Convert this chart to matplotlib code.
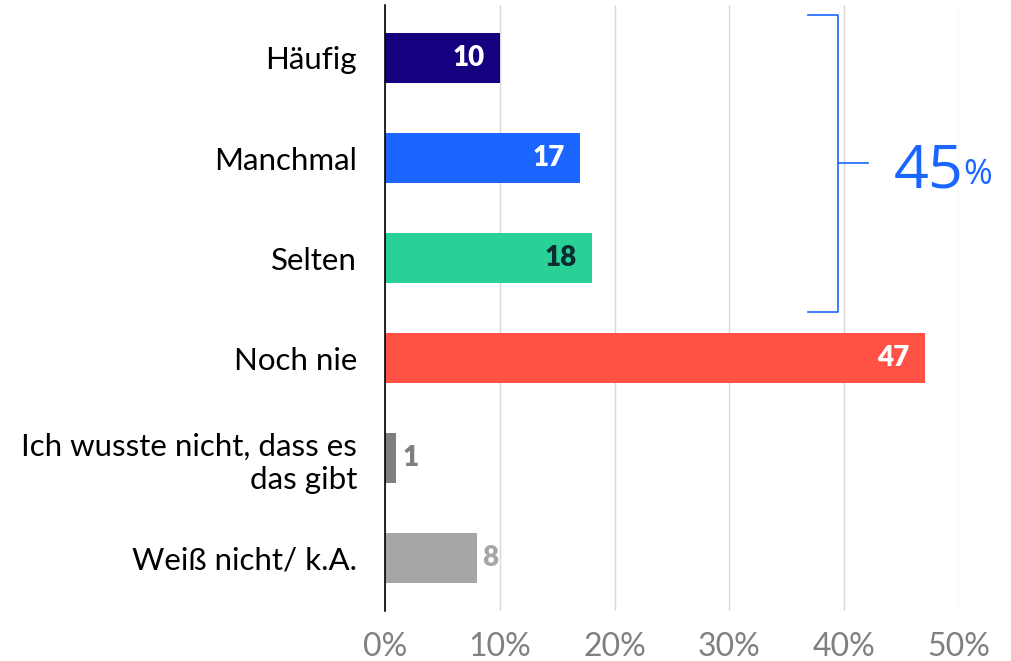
import matplotlib.pyplot as plt

categories = ["Häufig", "Manchmal", "Selten", "Noch nie",
              "Ich wusste nicht, dass es\ndas gibt", "Weiß nicht/ k.A."]
values = [10, 17, 18, 47, 1, 8]
colors = ["#150080", "#1a66ff", "#2ad197", "#ff5245", "#7f7f7f", "#a6a6a6"]
label_colors = ["white", "white", "#0c2b33", "white", "#7f7f7f", "#a6a6a6"]
inside = [True, True, True, True, False, False]
xticks = [0, 10, 20, 30, 40, 50]
sum_label = "45"

plt.rcParams['font.family'] = ['Lato', 'DejaVu Sans']

fig = plt.figure(figsize=(10.12, 6.61), dpi=100)
ax = fig.add_axes([385 / 1012, 1 - 611 / 661, 574 / 1012, 606 / 661])

ypos = list(range(len(categories)))
ax.barh(ypos, values, height=0.5, color=colors, zorder=3)

for y, v, lc, ins in zip(ypos, values, label_colors, inside):
    if ins:
        ax.text(v - 1.3, y, str(v), ha='right', va='center', color=lc,
                fontsize=20, fontweight='heavy', zorder=4)
    else:
        ax.text(v + 0.5, y, str(v), ha='left', va='center', color=lc,
                fontsize=20, fontweight='heavy', zorder=4)

ax.set_xlim(0, 50)
ax.set_ylim(5.53, -0.53)
ax.set_yticks(ypos)
ax.set_yticklabels(categories, fontsize=22.5, color='black', ha='right')
ax.set_xticks(xticks)
ax.set_xticklabels([f"{t}%" for t in xticks], fontsize=23, color='#808080')
ax.tick_params(axis='both', length=0)
ax.tick_params(axis='y', pad=20)
ax.tick_params(axis='x', pad=15)
for lbl in ax.get_yticklabels():
    lbl.set_multialignment('right')
    lbl.set_linespacing(1.25)

ax.grid(axis='x', color='#d9d9d9', linewidth=1, zorder=0)
for s in ['top', 'right', 'bottom']:
    ax.spines[s].set_visible(False)
ax.spines['left'].set_color('black')
ax.spines['left'].set_linewidth(1.2)
ax.spines['left'].set_zorder(5)

# bracket for Häufig + Manchmal + Selten
bc = '#1a66ff'
ax.plot([36.85, 39.46, 39.46, 36.85], [-0.43, -0.43, 2.54, 2.54],
        color=bc, lw=1.2, clip_on=False, zorder=4)
ax.plot([39.46, 42.07], [1.05, 1.05], color=bc, lw=1.2, clip_on=False, zorder=4)
t = ax.text(44.3, 1.13, sum_label, ha='left', va='center', color=bc,
            fontsize=44, family=['Open Sans', 'DejaVu Sans'], clip_on=False)
ax.annotate("%", xy=(1, 0.5), xycoords=t, xytext=(0, -3), textcoords='offset points',
            ha='left', va='center', color=bc, fontsize=25,
            family=['Open Sans', 'DejaVu Sans'], annotation_clip=False)

fig.savefig("out.png", dpi=100)
